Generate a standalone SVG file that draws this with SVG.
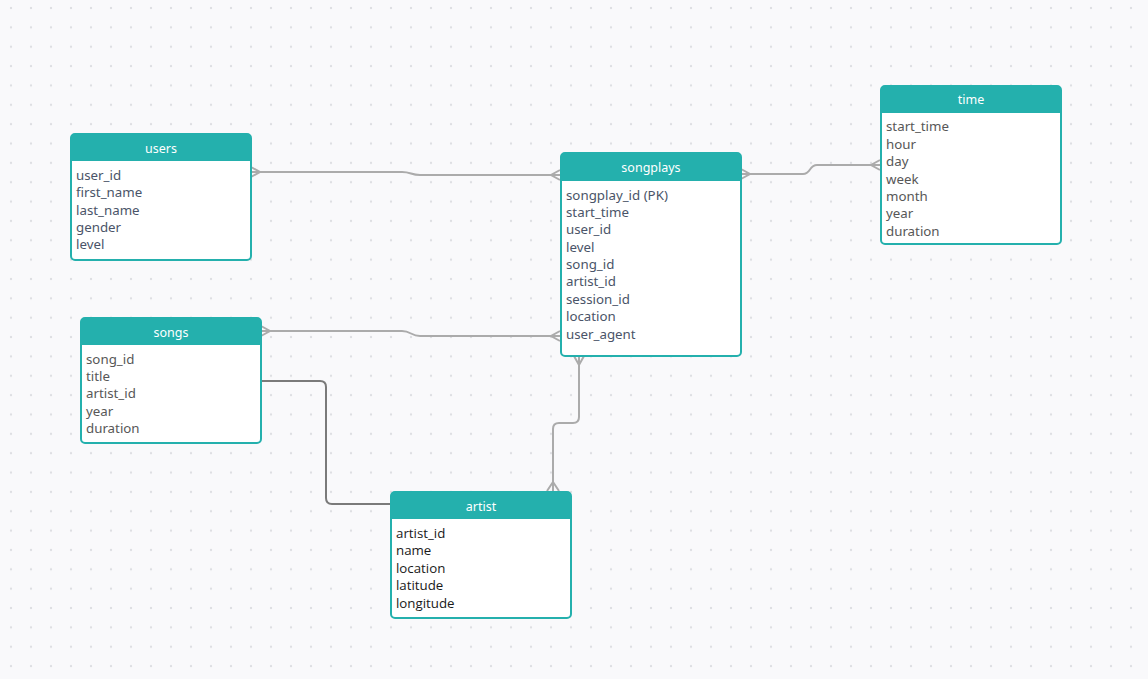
<svg xmlns="http://www.w3.org/2000/svg" width="1148" height="679" viewBox="0 0 1148 679">
<style>
.box{fill:#ffffff;stroke:#24b0ad;stroke-width:2}
.hdr{fill:#24b0ad}
.title{font-family:"Noto Sans","Open Sans",sans-serif;font-size:12.5px;font-weight:normal;fill:#ffffff;text-anchor:middle}
.row{font-family:"Noto Sans","Open Sans",sans-serif;font-size:13.3px}
.slate{fill:#4a5468}
.gray{fill:#575757}
.dark{font-family:"Open Sans","Noto Sans",sans-serif;fill:#1a1a1a}
.rel{fill:none;stroke:#ababab;stroke-width:2}
.link{fill:none;stroke:#7a7a7a;stroke-width:2}
</style>
<defs>
<pattern id="dots" patternUnits="userSpaceOnUse" x="1" y="-1.677" width="20" height="19.355">
<circle cx="10" cy="9.677" r="1.2" fill="#dedfe3"/>
</pattern>
</defs>
<rect width="1148" height="679" fill="#f9f9fb"/>
<rect width="1148" height="679" fill="url(#dots)"/>

<g id="connectors">
<path class="rel" d="M251,172 H402 C411,172 411,175 420,175 H560"/>
<path class="rel" d="M251,167 L260,172 L251,177"/>
<path class="rel" d="M560,170 L551,175 L560,180"/>
<path class="rel" d="M741,174 H803 C811,174 809,165 817,165 H880"/>
<path class="rel" d="M741,169 L750,174 L741,179"/>
<path class="rel" d="M880,160 L871,165 L880,170"/>
<path class="rel" d="M261,331 H402 C411,331 411,336 420,336 H560"/>
<path class="rel" d="M261,326 L270,331 L261,336"/>
<path class="rel" d="M560,331 L551,336 L560,341"/>
<path class="rel" d="M579,356 V417 Q579,423 573,423 H559 Q553,423 553,429 V491"/>
<path class="rel" d="M574,356 L579,365 L584,356"/>
<path class="rel" d="M547,491 L553,482 L559,491"/>
<path class="link" d="M261,381 H320 Q326,381 326,387 V498 Q326,504 332,504 H390"/>
</g>

<g id="users">
<rect class="box" x="71" y="134" width="180" height="126" rx="4"/>
<path class="hdr" d="M71,161 V138 Q71,134 75,134 H247 Q251,134 251,138 V161 Z"/>
<text class="title" x="161" y="153">users</text>
<text class="row slate" x="76" y="179.5">user_id</text>
<text class="row slate" x="76" y="197">first_name</text>
<text class="row slate" x="76" y="214.5">last_name</text>
<text class="row slate" x="76" y="232">gender</text>
<text class="row slate" x="76" y="249">level</text>
</g>

<g id="songplays">
<rect class="box" x="561" y="153" width="180" height="203" rx="4"/>
<path class="hdr" d="M561,181 V157 Q561,153 565,153 H737 Q741,153 741,157 V181 Z"/>
<text class="title" x="651" y="172">songplays</text>
<text class="row slate" x="566" y="199.5">songplay_id (PK)</text>
<text class="row slate" x="566" y="217">start_time</text>
<text class="row slate" x="566" y="234">user_id</text>
<text class="row slate" x="566" y="251.5">level</text>
<text class="row slate" x="566" y="268.5">song_id</text>
<text class="row slate" x="566" y="286">artist_id</text>
<text class="row slate" x="566" y="303.5">session_id</text>
<text class="row slate" x="566" y="321">location</text>
<text class="row slate" x="566" y="338.5">user_agent</text>
</g>

<g id="time">
<rect class="box" x="881" y="86" width="180" height="158" rx="4"/>
<path class="hdr" d="M881,113 V90 Q881,86 885,86 H1057 Q1061,86 1061,90 V113 Z"/>
<text class="title" x="971" y="104">time</text>
<text class="row gray" x="886" y="131">start_time</text>
<text class="row gray" x="886" y="148.5">hour</text>
<text class="row gray" x="886" y="166">day</text>
<text class="row gray" x="886" y="183.5">week</text>
<text class="row gray" x="886" y="200.5">month</text>
<text class="row gray" x="886" y="218">year</text>
<text class="row gray" x="886" y="235.5">duration</text>
</g>

<g id="songs">
<rect class="box" x="81" y="318" width="180" height="125" rx="4"/>
<path class="hdr" d="M81,345 V322 Q81,318 85,318 H257 Q261,318 261,322 V345 Z"/>
<text class="title" x="171" y="337">songs</text>
<text class="row gray" x="86" y="363.5">song_id</text>
<text class="row gray" x="86" y="381">title</text>
<text class="row gray" x="86" y="398">artist_id</text>
<text class="row gray" x="86" y="415.5">year</text>
<text class="row gray" x="86" y="433">duration</text>
</g>

<g id="artist">
<rect class="box" x="391" y="492" width="180" height="126" rx="4"/>
<path class="hdr" d="M391,519 V496 Q391,492 395,492 H567 Q571,492 571,496 V519 Z"/>
<text class="title" x="481" y="510.5">artist</text>
<text class="row dark" x="396" y="537.5">artist_id</text>
<text class="row dark" x="396" y="555">name</text>
<text class="row dark" x="396" y="572.5">location</text>
<text class="row dark" x="396" y="590">latitude</text>
<text class="row dark" x="396" y="607.5">longitude</text>
</g>
</svg>
